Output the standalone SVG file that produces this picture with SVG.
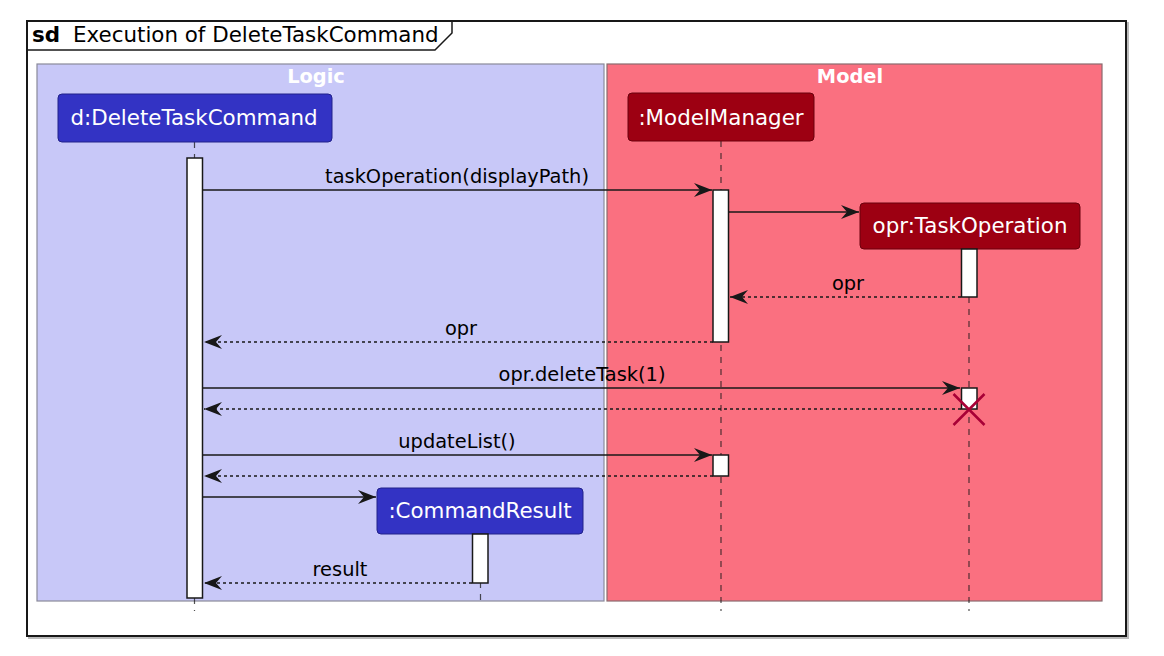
<svg xmlns="http://www.w3.org/2000/svg" width="1164" height="656" viewBox="0 0 1164 656">
<style>
text{font-family:"DejaVu Sans",Verdana,sans-serif}
.pt{font-size:21.4px;fill:#FFFFFF;text-anchor:middle}
.msg{font-size:19.4px;fill:#000000;text-anchor:middle}
.bt{font-size:19.4px;font-weight:bold;fill:#FFFFFF;text-anchor:middle}
.life{stroke:#181818;stroke-opacity:0.75;stroke-width:1.2;stroke-dasharray:6,6;fill:none}
.act{fill:#FFFFFF;stroke:#181818;stroke-width:1.5}
.sync{stroke:#181818;stroke-width:1.5;fill:none}
.ret{stroke:#181818;stroke-width:1.5;stroke-dasharray:3,3;fill:none}
.logicP{fill:#3333C4;stroke:#22228A;stroke-width:1}
.modelP{fill:#9D0012;stroke:#6A000C;stroke-width:1}
</style>
<defs>
<marker id="ah" viewBox="0 0 18 14" refX="18" refY="7" markerWidth="18" markerHeight="14" markerUnits="userSpaceOnUse" orient="auto">
<path d="M18,7 L0,0 L6,7 L0,14 Z" fill="#181818"/>
</marker>
</defs>
<rect width="1164" height="656" fill="#FFFFFF"/>
<g id="frame">
<rect x="29" y="23" width="1099" height="615" fill="none" stroke="#BBBBBB" stroke-width="2"/>
<rect x="27" y="21" width="1099" height="615" fill="#FFFFFF" stroke="#181818" stroke-width="2"/>
<path d="M27,50 H435 L452,33 V21" fill="none" stroke="#181818" stroke-width="1.5"/>
<text x="32" y="42" style="font-size:21.4px;font-weight:bold" fill="#000000">sd</text>
<text x="73" y="42" style="font-size:21.4px" fill="#000000">Execution of DeleteTaskCommand</text>
</g>
<g id="box-logic">
<rect x="37" y="64" width="567" height="537" fill="#C8C8F8" stroke="#8A8A9A" stroke-width="1.2"/>
<text class="bt" x="316" y="83">Logic</text>
</g>
<g id="box-model">
<rect x="607" y="64" width="495" height="537" fill="#FA7080" stroke="#8A6A6E" stroke-width="1.2"/>
<text class="bt" x="850" y="83">Model</text>
</g>
<g id="lifelines">
<line class="life" x1="194.5" y1="142" x2="194.5" y2="611"/>
<line class="life" x1="721" y1="141" x2="721" y2="611"/>
<line class="life" x1="969" y1="249" x2="969" y2="611"/>
<line class="life" x1="480.5" y1="534" x2="480.5" y2="604"/>
</g>
<g id="p-deletetaskcommand">
<rect class="logicP" x="58" y="94" width="274" height="48" rx="4"/>
<text class="pt" x="194" y="125">d:DeleteTaskCommand</text>
</g>
<g id="p-modelmanager">
<rect class="modelP" x="628" y="93" width="186" height="48" rx="4"/>
<text class="pt" x="721" y="125">:ModelManager</text>
</g>
<g id="p-taskoperation">
<rect class="modelP" x="860" y="203" width="220" height="46" rx="4"/>
<text class="pt" x="970" y="233">opr:TaskOperation</text>
</g>
<g id="p-commandresult">
<rect class="logicP" x="377" y="488" width="206" height="46" rx="4"/>
<text class="pt" x="480" y="518">:CommandResult</text>
</g>
<g id="activations">
<rect class="act" x="187" y="158" width="15.5" height="440"/>
<rect class="act" x="713" y="190" width="15.5" height="152"/>
<rect class="act" x="961.5" y="249" width="15.5" height="48"/>
<rect class="act" x="961.5" y="388" width="15.5" height="21"/>
<rect class="act" x="713" y="455" width="15.5" height="21"/>
<rect class="act" x="472.5" y="534" width="15.5" height="49"/>
</g>
<g id="connectors">
<line class="sync" x1="203" y1="190" x2="712" y2="190" marker-end="url(#ah)"/>
<text class="msg" x="457" y="183">taskOperation(displayPath)</text>
<line class="sync" x1="729" y1="212" x2="859" y2="212" marker-end="url(#ah)"/>
<line class="ret" x1="961" y1="297" x2="730" y2="297" marker-end="url(#ah)"/>
<text class="msg" x="848" y="290">opr</text>
<line class="ret" x1="713" y1="342" x2="204" y2="342" marker-end="url(#ah)"/>
<text class="msg" x="461" y="335">opr</text>
<line class="sync" x1="203" y1="388" x2="960" y2="388" marker-end="url(#ah)"/>
<text class="msg" x="582" y="381">opr.deleteTask(1)</text>
<line class="ret" x1="961" y1="409" x2="204" y2="409" marker-end="url(#ah)"/>
<line class="sync" x1="203" y1="455" x2="712" y2="455" marker-end="url(#ah)"/>
<text class="msg" x="457" y="448">updateList()</text>
<line class="ret" x1="713" y1="476" x2="204" y2="476" marker-end="url(#ah)"/>
<line class="sync" x1="203" y1="497" x2="376" y2="497" marker-end="url(#ah)"/>
<line class="ret" x1="472" y1="583" x2="204" y2="583" marker-end="url(#ah)"/>
<text class="msg" x="340" y="576">result</text>
</g>
<g id="destroy">
<path d="M953.5,394 L984.5,425 M984.5,394 L953.5,425" stroke="#A80036" stroke-width="2.5" fill="none"/>
</g>
</svg>
